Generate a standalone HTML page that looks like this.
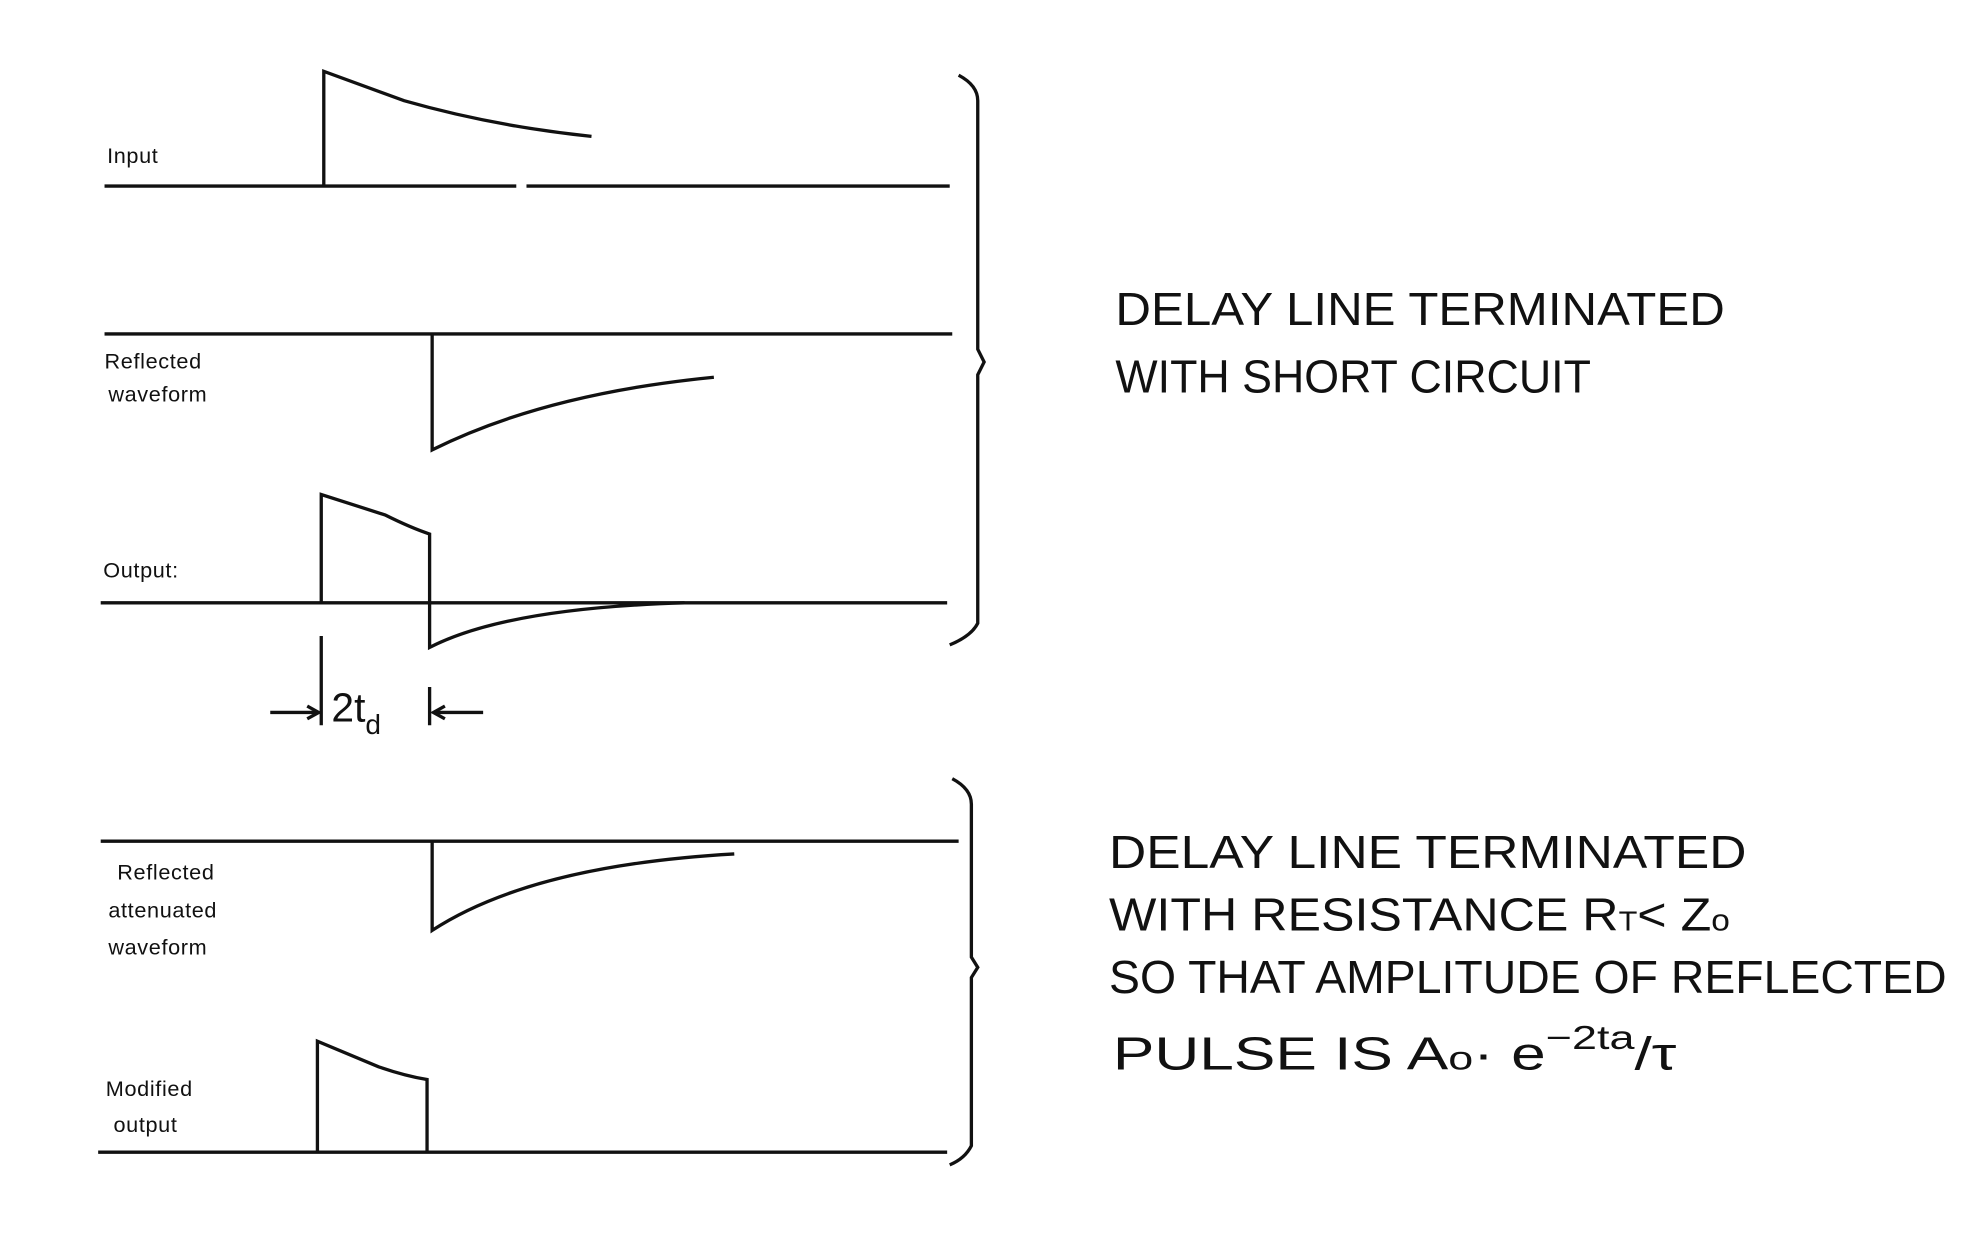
<!DOCTYPE html>
<html><head><style>
html,body{margin:0;padding:0;background:#fff}
svg{display:block}
.l{font-family:"Liberation Sans",sans-serif;font-size:17px;fill:#111;letter-spacing:0.5px}
.h{font-family:"Liberation Sans Narrow","Liberation Sans",sans-serif;font-size:36px;fill:#111}
</style></head><body>
<svg width="1981" height="1235" viewBox="0 0 1554 969" preserveAspectRatio="none" xmlns="http://www.w3.org/2000/svg">
<g transform="translate(-3,-1)">
<g fill="none" stroke="#111" stroke-width="2.6">
<path d="M85 147H408M416 147H748"/>
<path d="M257 147V57L320 80Q390 100 467 108"/>
<path d="M85 263H750"/>
<path d="M342 263V354Q430 310 563 297"/>
<path d="M82 474H746"/>
<path d="M255 474V389L305 405Q325 415 340 420V509Q400 478 540 474"/>
<path d="M255 500V570M340 540V570M215 560H253M382 560H344"/>
<path d="M244 555L253 560L244 565M352 555L343 560L352 565"/>
<path d="M755 60Q770 68 770 80V275L775 285L770 295V490Q765 500 748 507"/>
<path d="M82 661H755"/>
<path d="M342 661V731Q420 680 579 671"/>
<path d="M80 905H746"/>
<path d="M252 905V818L300 838Q320 845 338 848V905"/>
<path d="M750 612Q765 620 765 632V752L770 760L765 768V900Q760 910 748 915"/>
</g>
<text class="l" x="87" y="129">Input</text>
<text class="l" x="85" y="290">Reflected</text>
<text class="l" x="88" y="316">waveform</text>
<text class="l" x="84" y="454">Output:</text>
<text class="l" x="95" y="691">Reflected</text>
<text class="l" x="88" y="721">attenuated</text>
<text class="l" x="88" y="750">waveform</text>
<text class="l" x="86" y="861">Modified</text>
<text class="l" x="92" y="889">output</text>
<text x="263" y="567" style="font-family:'Liberation Sans',sans-serif;font-size:32px;fill:#111">2t<tspan font-size="22" dy="10">d</tspan></text>
<g class="h">
<text x="878" y="256" textLength="478" lengthAdjust="spacingAndGlyphs">DELAY LINE TERMINATED</text>
<text x="878" y="309" textLength="373" lengthAdjust="spacingAndGlyphs">WITH SHORT CIRCUIT</text>
<text x="873" y="682" textLength="500" lengthAdjust="spacingAndGlyphs">DELAY LINE TERMINATED</text>
<text x="873" y="731" textLength="487" lengthAdjust="spacingAndGlyphs">WITH RESISTANCE R<tspan font-size="22">T</tspan>&lt; Z<tspan font-size="24">o</tspan></text>
<text x="873" y="780" textLength="657" lengthAdjust="spacingAndGlyphs">SO THAT AMPLITUDE OF REFLECTED</text>
<text x="876" y="840" textLength="442" lengthAdjust="spacingAndGlyphs">PULSE IS  A<tspan font-size="26">o</tspan>· e<tspan font-size="26" dy="-16">−2ta</tspan><tspan dy="16">/τ</tspan></text>
</g>
</g>
</svg>
</body></html>
